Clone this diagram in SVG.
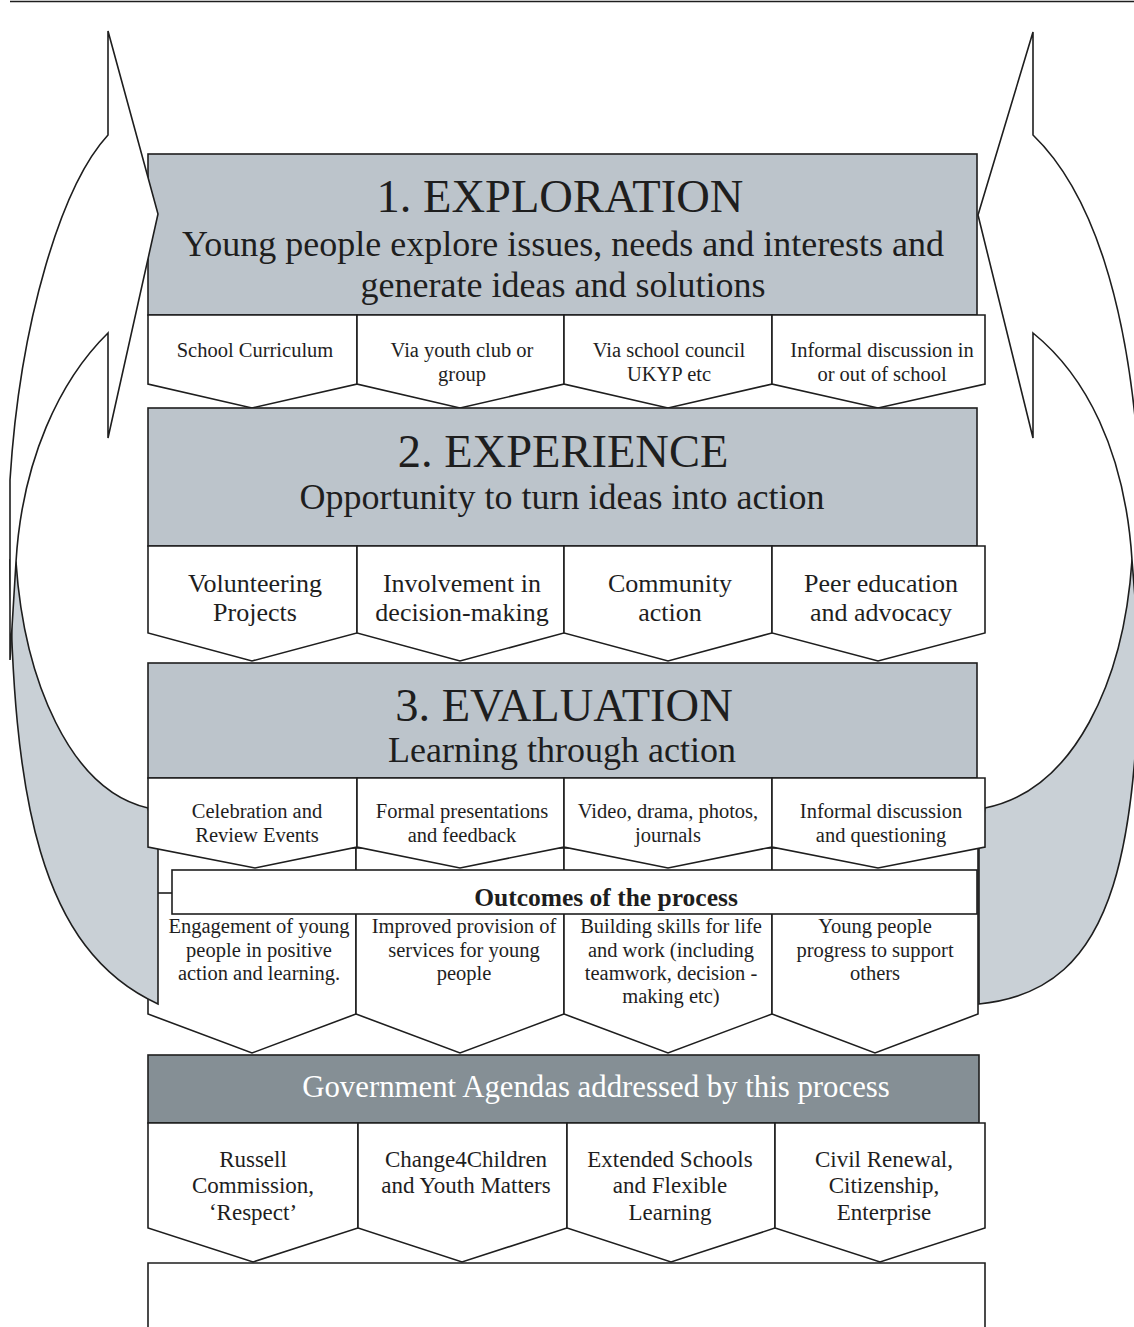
<svg xmlns="http://www.w3.org/2000/svg" width="1134" height="1327" viewBox="0 0 1134 1327">
  <defs>
    <style>
      .ln { stroke: #1e1e1e; stroke-width: 1.6; stroke-linejoin: miter; }
      .box { fill: #bcc4cb; }
      .wht { fill: #ffffff; }
      .back { fill: #c9d0d6; }
      .gov { fill: #858f95; }
      text { font-family: "Liberation Serif", "Times New Roman", serif; fill: #1e1e1e; text-anchor: middle; }
      .h1 { font-size: 46.5px; }
      .h2 { font-size: 36px; }
      .s { font-size: 20.5px; }
      .m { font-size: 26px; }
      .g { font-size: 23px; }
      .bold { font-size: 25.5px; font-weight: bold; }
      .govt { font-size: 30.8px; fill: #ffffff; }
    </style>
  </defs>

  <!-- top rule -->
  <line x1="10" y1="1.5" x2="1134" y2="1.5" class="ln"/>

  <!-- outcome chevrons (sit behind the feedback arrows) -->
  <g id="outcomes-row">
    <g id="outcome-1"><path class="wht ln" d="M148,848 H356 V1014 L252,1053 L148,1014 Z"/>
      <text class="s" x="259" y="933">Engagement of young</text>
      <text class="s" x="259" y="957">people in positive</text>
      <text class="s" x="259" y="980">action and learning.</text></g>
    <g id="outcome-2"><path class="wht ln" d="M356,848 H564 V1014 L460,1053 L356,1014 Z"/>
      <text class="s" x="464" y="933">Improved provision of</text>
      <text class="s" x="464" y="957">services for young</text>
      <text class="s" x="464" y="980">people</text></g>
    <g id="outcome-3"><path class="wht ln" d="M564,848 H772 V1014 L668,1053 L564,1014 Z"/>
      <text class="s" x="671" y="933">Building skills for life</text>
      <text class="s" x="671" y="957">and work (including</text>
      <text class="s" x="671" y="980">teamwork, decision -</text>
      <text class="s" x="671" y="1003">making etc)</text></g>
    <g id="outcome-4"><path class="wht ln" d="M772,848 H978 V1014 L875,1053 L772,1014 Z"/>
      <text class="s" x="875" y="933">Young people</text>
      <text class="s" x="875" y="957">progress to support</text>
      <text class="s" x="875" y="980">others</text></g>
  </g>

  <!-- shaded back faces of the two feedback arrows -->
  <g id="connectors">
    <path id="left-arrow-back" class="back ln" d="M10,560 C12,800 40,950 158,1004 L158,848 L148,808 C70,790 24,680 16,562 Z"/>
    <path id="right-arrow-back" class="back ln" d="M1140,560 C1142,850 1120,990 979,1004 L979,848 L985,808 C1075,790 1124,680 1132,560 Z"/>
  </g>

  <!-- stage 1 -->
  <g id="exploration">
    <rect class="box ln" x="148" y="154" width="829" height="161"/>
    <text class="h1" x="560" y="212">1. EXPLORATION</text>
    <text class="h2" x="563" y="256">Young people explore issues, needs and interests and</text>
    <text class="h2" x="563" y="297">generate ideas and solutions</text>
  </g>
  <g id="exploration-row">
    <g id="ex-1"><path class="wht ln" d="M148,315 H357 V384 L252,408 L148,384 Z"/>
      <text class="s" x="255" y="357">School Curriculum</text></g>
    <g id="ex-2"><path class="wht ln" d="M357,315 H564 V384 L460,408 L357,384 Z"/>
      <text class="s" x="462" y="357">Via youth club or</text>
      <text class="s" x="462" y="381">group</text></g>
    <g id="ex-3"><path class="wht ln" d="M564,315 H772 V384 L668,408 L564,384 Z"/>
      <text class="s" x="669" y="357">Via school council</text>
      <text class="s" x="669" y="381">UKYP etc</text></g>
    <g id="ex-4"><path class="wht ln" d="M772,315 H985 V384 L878,408 L772,384 Z"/>
      <text class="s" x="882" y="357">Informal discussion in</text>
      <text class="s" x="882" y="381">or out of school</text></g>
  </g>

  <!-- stage 2 -->
  <g id="experience">
    <rect class="box ln" x="148" y="408" width="829" height="138"/>
    <text class="h1" x="563" y="467">2. EXPERIENCE</text>
    <text class="h2" x="562" y="509">Opportunity to turn ideas into action</text>
  </g>
  <g id="experience-row">
    <g id="xp-1"><path class="wht ln" d="M148,546 H357 V633 L252,661 L148,633 Z"/>
      <text class="m" x="255" y="592">Volunteering</text>
      <text class="m" x="255" y="621">Projects</text></g>
    <g id="xp-2"><path class="wht ln" d="M357,546 H564 V633 L460,661 L357,633 Z"/>
      <text class="m" x="462" y="592">Involvement in</text>
      <text class="m" x="462" y="621">decision-making</text></g>
    <g id="xp-3"><path class="wht ln" d="M564,546 H772 V633 L668,661 L564,633 Z"/>
      <text class="m" x="670" y="592">Community</text>
      <text class="m" x="670" y="621">action</text></g>
    <g id="xp-4"><path class="wht ln" d="M772,546 H985 V633 L878,661 L772,633 Z"/>
      <text class="m" x="881" y="592">Peer education</text>
      <text class="m" x="881" y="621">and advocacy</text></g>
  </g>

  <!-- stage 3 -->
  <g id="evaluation">
    <rect class="box ln" x="148" y="663" width="829" height="115"/>
    <text class="h1" x="564" y="721">3. EVALUATION</text>
    <text class="h2" x="562" y="762">Learning through action</text>
  </g>
  <g id="evaluation-row">
    <g id="ev-1"><path class="wht ln" d="M148,778 H357 V847 L255,868 L148,847 Z"/>
      <text class="s" x="257" y="818">Celebration and</text>
      <text class="s" x="257" y="842">Review Events</text></g>
    <g id="ev-2"><path class="wht ln" d="M357,778 H564 V847 L460,868 L357,847 Z"/>
      <text class="s" x="462" y="818">Formal presentations</text>
      <text class="s" x="462" y="842">and feedback</text></g>
    <g id="ev-3"><path class="wht ln" d="M564,778 H772 V847 L668,868 L564,847 Z"/>
      <text class="s" x="668" y="818">Video, drama, photos,</text>
      <text class="s" x="668" y="842">journals</text></g>
    <g id="ev-4"><path class="wht ln" d="M772,778 H985 V847 L878,868 L772,847 Z"/>
      <text class="s" x="881" y="818">Informal discussion</text>
      <text class="s" x="881" y="842">and questioning</text></g>
  </g>

  <!-- outcomes banner -->
  <g id="outcomes">
    <line class="ln" x1="158" y1="893" x2="172" y2="893"/>
    <rect class="wht ln" x="172" y="870" width="805" height="44"/>
    <text class="bold" x="606" y="906">Outcomes of the process</text>
  </g>

  <!-- front faces and heads of the feedback arrows -->
  <g id="feedback-arrows">
    <path id="left-arrow" class="wht ln" d="M10,660 L10,480 C20,320 62,185 108,135 L108,31 L158,214 L108,438 L108,333 C60,380 22,460 16,562 L10,660 Z"/>
    <path id="right-arrow" class="wht ln" d="M1140,660 L1140,480 C1130,300 1090,190 1033,135 L1033,32 L978,215 L1033,438 L1033,333 C1085,375 1125,450 1132,560 L1140,660 Z"/>
  </g>

  <!-- government agendas -->
  <g id="government">
    <rect class="gov ln" x="148" y="1055" width="831" height="68"/>
    <text class="govt" x="596" y="1097">Government Agendas addressed by this process</text>
  </g>
  <g id="government-row">
    <g id="gv-1"><path class="wht ln" d="M148,1123 H358 V1228 L253,1262 L148,1228 Z"/>
      <text class="g" x="253" y="1167">Russell</text>
      <text class="g" x="253" y="1193">Commission,</text>
      <text class="g" x="253" y="1220">‘Respect’</text></g>
    <g id="gv-2"><path class="wht ln" d="M358,1123 H567 V1228 L462,1262 L358,1228 Z"/>
      <text class="g" x="466" y="1167">Change4Children</text>
      <text class="g" x="466" y="1193">and Youth Matters</text></g>
    <g id="gv-3"><path class="wht ln" d="M567,1123 H775 V1228 L671,1262 L567,1228 Z"/>
      <text class="g" x="670" y="1167">Extended Schools</text>
      <text class="g" x="670" y="1193">and Flexible</text>
      <text class="g" x="670" y="1220">Learning</text></g>
    <g id="gv-4"><path class="wht ln" d="M775,1123 H985 V1228 L880,1262 L775,1228 Z"/>
      <text class="g" x="884" y="1167">Civil Renewal,</text>
      <text class="g" x="884" y="1193">Citizenship,</text>
      <text class="g" x="884" y="1220">Enterprise</text></g>
  </g>

  <!-- open box at the foot -->
  <g id="footer-box">
    <path class="wht ln" d="M148,1340 V1263 H985 V1340"/>
  </g>
</svg>
